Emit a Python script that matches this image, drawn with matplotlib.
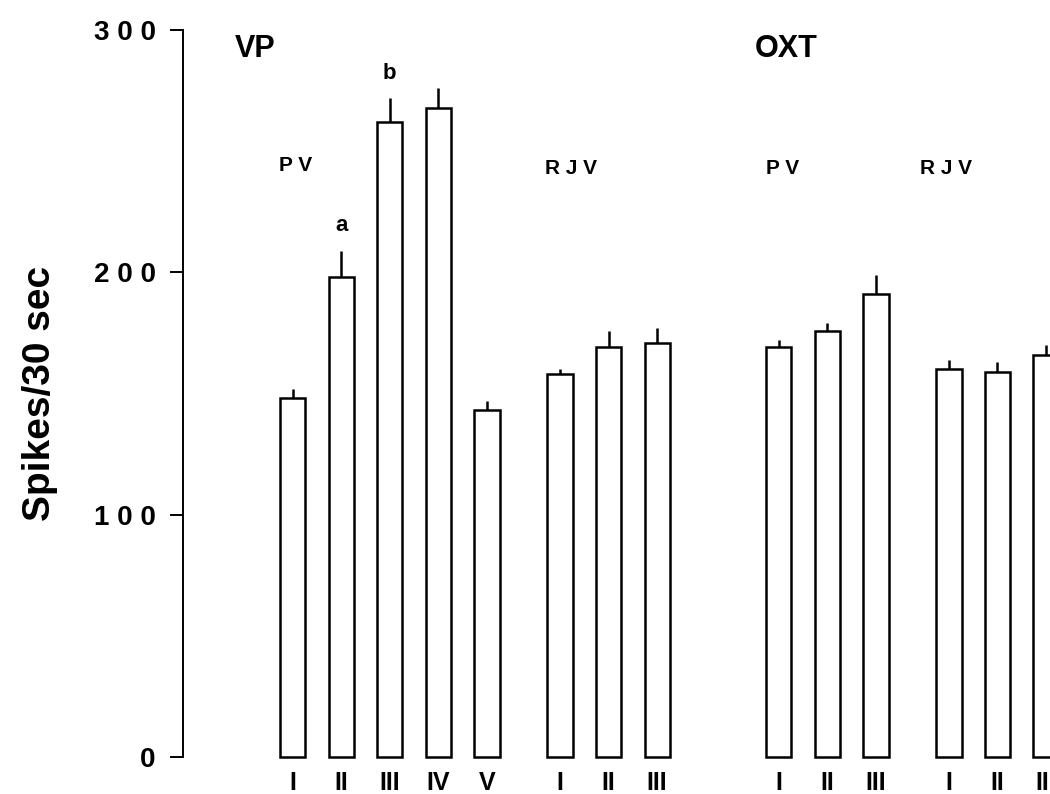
import numpy as np
import matplotlib
matplotlib.use("Agg")
import matplotlib.pyplot as plt

plt.rcParams['font.family'] = ['Liberation Sans', 'DejaVu Sans']

# bar positions (index units), values and upper error
pos = [0, 1, 2, 3, 4, 5.5, 6.5, 7.5, 10, 11, 12, 13.5, 14.5, 15.5]
means = [148, 198, 262, 268, 143, 158, 169, 171, 169, 176, 191, 160, 159, 166]
err = [4, 11, 10, 8, 4, 2, 7, 6, 3, 3, 8, 4, 4, 4]
ticklabels = ['I', 'II', 'III', 'IV', 'V', 'I', 'II', 'III',
              'I', 'II', 'III', 'I', 'II', 'III']

fig = plt.figure(figsize=(10.5, 7.94), dpi=100)
ax = fig.add_axes([0.174, 0.0466, 0.826, 0.9156])

ax.bar(pos, means, width=0.52, facecolor='white', edgecolor='black',
       linewidth=1.8, clip_on=False)
ax.errorbar(pos, means, yerr=[np.zeros(len(err)), err], fmt='none',
            ecolor='black', elinewidth=1.8, capsize=0, clip_on=False)

ax.set_ylim(0, 300)
ax.set_xlim(-2.26, 15.58)
ax.set_yticks([0, 100, 200, 300])
ax.set_yticklabels(['0', '1 0 0', '2 0 0', '3 0 0'], fontsize=20, fontweight='bold')
ax.set_xticks(pos)
ax.set_xticklabels(ticklabels, fontsize=18, fontweight='bold')
ax.tick_params(axis='x', length=0, pad=10)
ax.tick_params(axis='y', length=9.5, width=1.4, pad=10, direction='out')

for s in ['top', 'right', 'bottom']:
    ax.spines[s].set_visible(False)
ax.spines['left'].set_linewidth(1.4)

ax.set_ylabel('Spikes/30 sec', fontsize=28, fontweight='bold', labelpad=26)

ax.text(-1.19, 292, 'VP', fontsize=22, fontweight='bold', ha='left', va='center')
ax.text(9.5, 292, 'OXT', fontsize=22, fontweight='bold', ha='left', va='center')
ax.text(-0.27, 244, 'P V', fontsize=15, fontweight='bold', ha='left', va='center')
ax.text(5.19, 243, 'R J V', fontsize=15, fontweight='bold', ha='left', va='center')
ax.text(9.73, 243, 'P V', fontsize=15, fontweight='bold', ha='left', va='center')
ax.text(12.9, 243, 'R J V', fontsize=15, fontweight='bold', ha='left', va='center')
ax.text(1, 219.5, 'a', fontsize=16, fontweight='bold', ha='center', va='center')
ax.text(2, 282, 'b', fontsize=16, fontweight='bold', ha='center', va='center')

fig.savefig('out.png', dpi=100)
